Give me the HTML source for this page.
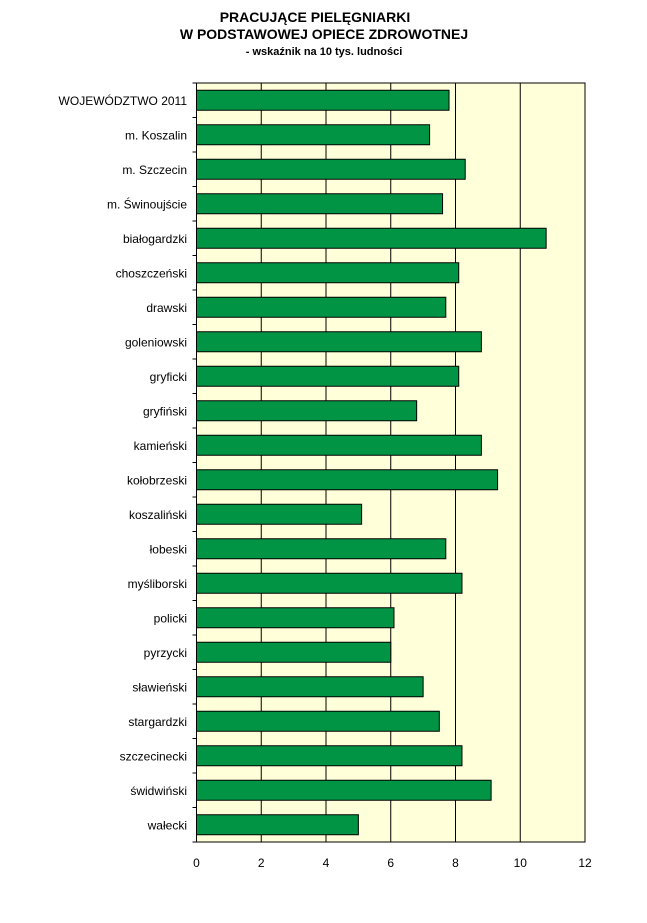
<!DOCTYPE html>
<html><head><meta charset="utf-8"><style>
body{margin:0;background:#fff;width:647px;height:918px;overflow:hidden;font-family:"Liberation Sans",sans-serif}
</style></head><body>
<svg width="647" height="918" id="chart">
<text x="315" y="22" text-anchor="middle" font-weight="bold" font-size="14">PRACUJĄCE PIELĘGNIARKI</text>
<text x="324" y="39" text-anchor="middle" font-weight="bold" font-size="14">W PODSTAWOWEJ OPIECE ZDROWOTNEJ</text>
<text x="324" y="55" text-anchor="middle" font-weight="bold" font-size="11">- wskaźnik na 10 tys. ludności</text>
<g id="plot"></g>
</svg>
<script>
const categories=["WOJEWÓDZTWO  2011","m. Koszalin","m. Szczecin","m. Świnoujście","białogardzki","choszczeński","drawski","goleniowski","gryficki","gryfiński","kamieński","kołobrzeski","koszaliński","łobeski","myśliborski","policki","pyrzycki","sławieński","stargardzki","szczecinecki","świdwiński","wałecki"];
const values=[7.8,7.2,8.3,7.6,10.8,8.1,7.7,8.8,8.1,6.8,8.8,9.3,5.1,7.7,8.2,6.1,6.0,7.0,7.5,8.2,9.1,5.0];
const ticks=[0,2,4,6,8,10,12];
const L=196.5,R=585,T=83,B=842,max=12;
const x=v=>L+v/max*(R-L);
const band=(B-T)/categories.length;
const y=i=>T+i*band;
const NS="http://www.w3.org/2000/svg";
const g=document.getElementById('plot');
function mk(t,a){const e=document.createElementNS(NS,t);for(const k in a)e.setAttribute(k,a[k]);g.appendChild(e);return e;}
let bg=mk('rect',{x:L,y:T,width:R-L,height:B-T,fill:'#FFFFD9',stroke:'#000','stroke-width':1});


ticks.forEach(t=>{
 if(t>0&&t<max){let gl=mk('line',{x1:x(t),x2:x(t),y1:T,y2:B,stroke:'#000','stroke-width':1});
 
 }
 let tl=mk('text',{x:x(t),y:867,'text-anchor':'middle','font-size':12});
 tl.textContent=t;
 
 
});
for(let i=0;i<=categories.length;i++){
 let tk=mk('line',{x1:L-4,x2:L,y1:y(i),y2:y(i),stroke:'#000'});
 
 
}
categories.forEach((c,i)=>{
 const cy=y(i)+band/2;
 let r=mk('rect',{x:L,y:cy-10,width:x(values[i])-L,height:20,fill:'#009444',stroke:'#000','stroke-width':1});
 
 
 let t=mk('text',{x:187,y:cy+4.5,'text-anchor':'end','font-size':12,fill:'#000'});
 t.textContent=c;
 
 
});
</script>
</body></html>
